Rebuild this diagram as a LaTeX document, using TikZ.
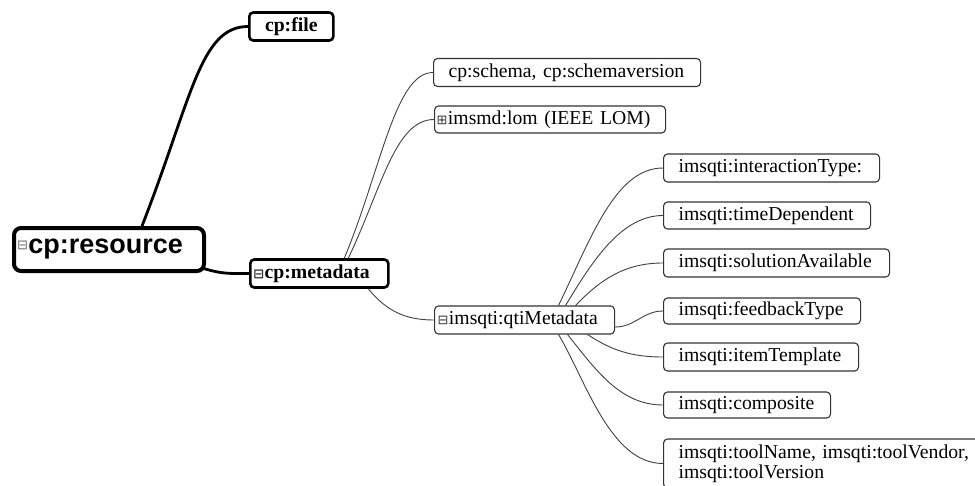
\documentclass[tikz,border=0pt]{standalone}
\usepackage{fontspec}
\setmainfont{Liberation Serif}
\newfontfamily\headfont{Liberation Sans}
\newfontfamily\iconfont{DejaVu Sans}
\definecolor{edgegray}{HTML}{333333}
\definecolor{wiregray}{HTML}{404040}
\definecolor{icongray}{HTML}{8A8A8A}
% tree toggles drawn in front of a label
\newcommand\foldicon[1][edgegray]{{\iconfont\fontsize{13}{13}\selectfont\textcolor{#1}{⊟}}\hspace{0.5pt}}
\newcommand\unfoldicon[1][edgegray]{{\iconfont\fontsize{13}{13}\selectfont\textcolor{#1}{⊞}}\hspace{0.5pt}}
\begin{document}
\begin{tikzpicture}[x=1pt,y=-1pt,
  label font/.style={font=\fontsize{19.7}{20}\selectfont},
  leaf/.style={draw=edgegray, line width=1.1pt, rounded corners=4pt,
    anchor=west, inner ysep=0pt, inner xsep=15pt, align=left,
    minimum height=28pt, label font},
  branch/.style={leaf, inner xsep=3pt},
  bold branch/.style={leaf, draw=black, line width=2.6pt, inner xsep=3pt,
    font=\fontsize{19.7}{20}\selectfont\bfseries},
  root/.style={draw=black, line width=4pt, rounded corners=7pt, anchor=west,
    inner xsep=3pt, inner ysep=0pt, align=left, minimum height=43pt,
    font=\headfont\bfseries\fontsize{27}{27}\selectfont},
  wire/.style={draw=wiregray, line width=0.9pt},
  heavy wire/.style={draw=black, line width=2.8pt},
]
\useasboundingbox (0,0) rectangle (975,485);
\clip (0,0) rectangle (975,485);

% ---- nodes ----
\node[root, text width=184pt] (res) at (12,249.5)
  {\mbox{\raisebox{4pt}{\foldicon[icongray]}cp:resource}};
\node[bold branch, inner xsep=10pt, text width=64pt, align=center] (file) at (248,26.5) {\mbox{cp:file}};
\node[bold branch, text width=132pt] (meta) at (249,273.5) {\mbox{\foldicon cp:metadata}};

\node[leaf, text width=237pt] (schema) at (433,72.5) {\mbox{cp:schema, cp:schemaversion}};
\node[branch, inner xsep=2pt, text width=227pt, minimum height=27pt] (lom) at (434,119.5) {\mbox{\unfoldicon imsmd:lom (IEEE LOM)}};
\node[branch, text width=174pt] (qti) at (434,320) {\mbox{\foldicon imsqti:qtiMetadata}};

\node[leaf, text width=186pt] (itype) at (663,168) {\mbox{imsqti:interactionType:}};
\node[leaf, text width=177pt, minimum height=27pt] (tdep) at (663,215.5) {\mbox{imsqti:timeDependent}};
\node[leaf, text width=196pt] (solav) at (663,263) {\mbox{imsqti:solutionAvailable}};
\node[leaf, text width=167pt, minimum height=26pt] (fbtype) at (663,311) {\mbox{imsqti:feedbackType}};
\node[leaf, text width=165pt] (itemt) at (663,357) {\mbox{imsqti:itemTemplate}};
\node[leaf, text width=137pt, minimum height=26pt] (comp) at (663,405) {\mbox{imsqti:composite}};
\node[leaf, text width=297pt, minimum height=49pt] (tool) at (663,463.5)
  {\mbox{imsqti:toolName, imsqti:toolVendor,}\\\mbox{imsqti:toolVersion}};

% ---- connectors ----
\draw[heavy wire] ([xshift=33pt]res.north) .. controls +(50,-128) and +(-48,0) .. (file.west);
\draw[heavy wire] ([xshift=-4pt,yshift=5pt]res.south east) .. controls +(20,6) and +(-22,0) .. (meta.west);

\draw[wire] ([xshift=25pt]meta.north) .. controls +(37,-89) and +(-38,0) .. (schema.west);
\draw[wire] ([xshift=29pt]meta.north) .. controls +(33,-69) and +(-39,0) .. (lom.west);
\draw[wire] ([xshift=49pt]meta.south) .. controls +(18,22) and +(-29,0) .. (qti.west);

\draw[wire] ([xshift=34pt]qti.north) .. controls +(32,-66) and +(-48,0) .. (itype.west);
\draw[wire] ([xshift=41pt]qti.north) .. controls +(25,-41) and +(-43,0) .. (tdep.west);
\draw[wire] ([xshift=51pt]qti.north) .. controls +(25,-26) and +(-38,0) .. (solav.west);
\draw[wire] ([yshift=-7pt]qti.east) .. controls +(20,0) and +(-20,0) .. (fbtype.west);
\draw[wire] ([xshift=63pt]qti.south) .. controls +(23,15) and +(-33,0) .. (itemt.west);
\draw[wire] ([xshift=43pt]qti.south) .. controls +(28,35) and +(-43,0) .. (comp.west);
\draw[wire] ([xshift=34pt]qti.south) .. controls +(27,45) and +(-53,0) .. (tool.west);
\end{tikzpicture}
\end{document}
